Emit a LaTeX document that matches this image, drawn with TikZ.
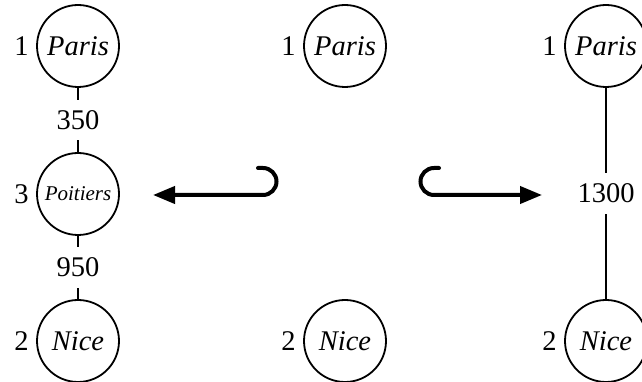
\documentclass[tikz,border=0pt]{standalone}
\usepackage{fontspec}
\setmainfont{Liberation Serif}
\usetikzlibrary{arrows.meta}

\begin{document}
\begin{tikzpicture}[x=1pt,y=1pt,font=\fontsize{28.5}{34}\selectfont,
  city/.style={circle,draw,line width=1.8pt,minimum size=82pt,inner sep=0pt,
    font=\fontsize{28.5}{34}\selectfont\itshape},
  small city/.style={city,font=\fontsize{21}{25}\selectfont\itshape},
  num/.style={font=\fontsize{28.5}{34}\selectfont\upshape,label distance=4pt},
  road/.style={line width=1.8pt},
  dist/.style={fill=white,inner xsep=3pt,inner ysep=10.5pt},
  hookarrow/.style={line width=4pt,line cap=round,-{Triangle[length=22pt,width=17pt]}}]
  \clip (0,0) rectangle (642,382);
  % the three columns
  \foreach \x/\c in {78/a,345/b,606/c} {
    \node[city,label={[num]left:1}] (paris\c) at (\x,336) {Paris};
    \node[city,label={[num]left:2}] (nice\c) at (\x,41) {Nice};
  }
  \node[small city,label={[num]left:3}] (poitiers) at (78,188) {Poitiers};
  \draw[road] (parisa) -- node[dist] {350} (poitiers);
  \draw[road] (poitiers) -- node[dist] {950} (nicea);
  \draw[road] (parisc) -- node[dist] {1300} (nicec);
  % hooked arrows
  \coordinate (lstart) at (258,214);
  \coordinate (ltip) at (153,187);
  \coordinate (rstart) at (439,214);
  \coordinate (rtip) at (542,187);
  \draw[hookarrow] (lstart) -- ++(5,0) arc[start angle=90,end angle=-90,radius=13.5] -- (ltip);
  \draw[hookarrow] (rstart) -- ++(-5,0) arc[start angle=90,end angle=270,radius=13.5] -- (rtip);
\end{tikzpicture}
\end{document}
